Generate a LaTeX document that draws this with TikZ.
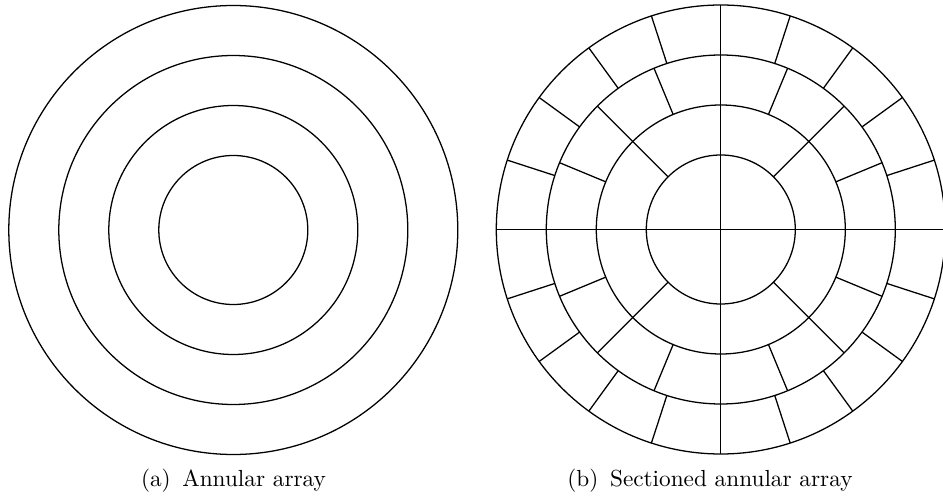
\documentclass[tikz,border=0pt]{standalone}
\usepackage{tikz}
\usetikzlibrary{positioning}

\begin{document}
\begin{tikzpicture}[x=0.43pt, y=0.43pt, line width=0.55pt,
    ring/.style={draw, black},
    cut/.style={draw, black},
    caption/.style={anchor=base, font=\normalsize}]
\useasboundingbox (0,0) rectangle (943,496);

\coordinate (annular) at (233.3,266);
\coordinate (sectioned) at (720.8,266.5);

% (a) plain rings
\foreach \r in {74.5,124.5,174.5,224.5}
  \draw[ring] (annular) circle[radius=\r];

% (b) rings cut into sections
\begin{scope}[shift={(sectioned)}]
  \foreach \r in {74.5,124.5,174.5,224.5}
    \draw[ring] (0,0) circle[radius=\r];
  \draw[cut] (-224.5,0) -- (224.5,0);
  \draw[cut] (0,-224.5) -- (0,224.5);
  \foreach \a in {45,135,225,315}
    \draw[cut] (\a:74.5) -- (\a:174.5);
  \foreach \a in {22.5,67.5,...,337.5}
    \draw[cut] (\a:124.5) -- (\a:174.5);
  \foreach \a in {18,36,54,72,108,126,144,162,198,216,234,252,288,306,324,342}
    \draw[cut] (\a:174.5) -- (\a:224.5);
\end{scope}

\node[caption] (capa) at (233.5,9) {(a)\enskip Annular array};
\node[caption] (capb) at (710,9) {(b)\enskip Sectioned annular array};
\end{tikzpicture}
\end{document}
